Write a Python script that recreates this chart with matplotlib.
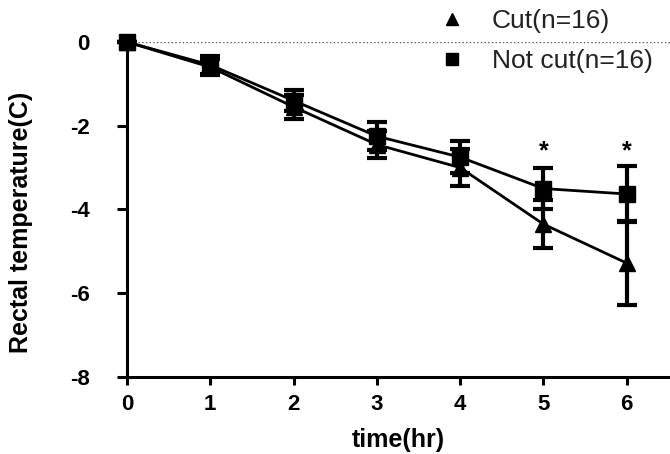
import numpy as np
import matplotlib.pyplot as plt
from matplotlib.lines import Line2D

plt.rcParams['font.family'] = ['Liberation Sans', 'DejaVu Sans']
plt.rcParams['axes.unicode_minus'] = False

# data
hours = [0, 1, 2, 3, 4, 5, 6]
cut_mean = [0, -0.6, -1.55, -2.45, -3.0, -4.35, -5.28]
cut_err = [0, 0.2, 0.28, 0.32, 0.44, 0.57, 1.0]
notcut_mean = [0, -0.55, -1.4, -2.25, -2.75, -3.5, -3.63]
notcut_err = [0, 0.22, 0.25, 0.33, 0.39, 0.5, 0.67]
star_hours = [5, 6]
star_y = [-2.62, -2.62]

fig = plt.figure(figsize=(6.7, 4.54), dpi=100)
ax = fig.add_axes([0.1896, 0.1696, 0.8104, 0.7379])

ax.axhline(0, color='#555555', linestyle=':', linewidth=1, zorder=0)

ax.errorbar(hours, cut_mean, yerr=cut_err, color='black', marker='^', markersize=11,
            linewidth=2.0, elinewidth=3, capsize=7, capthick=3,
            clip_on=False, zorder=3)
ax.errorbar(hours, notcut_mean, yerr=notcut_err, color='black', marker='s', markersize=11,
            linewidth=2.0, elinewidth=3, capsize=7, capthick=3,
            clip_on=False, zorder=3)

for x, y in zip(star_hours, star_y):
    ax.text(x, y, '*', ha='center', va='center', fontsize=18, fontweight='bold')

ax.set_xlim(0, 6.52)
ax.set_ylim(-8, 0)
ax.set_xticks(hours)
ax.set_yticks([0, -2, -4, -6, -8])

for s in ['top', 'right']:
    ax.spines[s].set_visible(False)
for s in ['left', 'bottom']:
    ax.spines[s].set_linewidth(2.2)

ax.tick_params(axis='both', direction='out', width=2.2, labelsize=16)
ax.tick_params(axis='y', pad=20, length=7)
ax.tick_params(axis='x', pad=6, length=6)
for lab in ax.get_xticklabels() + ax.get_yticklabels():
    lab.set_fontweight('bold')

ax.set_xlabel('time(hr)', fontsize=18, fontweight='bold')
ax.set_ylabel('Rectal temperature(C)', fontsize=18, fontweight='bold')
ax.xaxis.set_label_coords(0.5, -0.152)
ax.yaxis.set_label_coords(-0.173, 0.463)

handles = [Line2D([], [], color='black', marker='^', linestyle='none', markersize=9),
           Line2D([], [], color='black', marker='s', linestyle='none', markersize=9)]
labels = ['Cut(n=16)', 'Not cut(n=16)']
fig.legend(handles, labels, loc='upper left', bbox_to_anchor=(439 / 670, 1 - 9 / 454),
           frameon=False, fontsize=19, handlelength=1.0, handletextpad=1.0,
           labelspacing=0.62, borderpad=0, borderaxespad=0, labelcolor='#222222')

fig.savefig('out.png', dpi=100)
